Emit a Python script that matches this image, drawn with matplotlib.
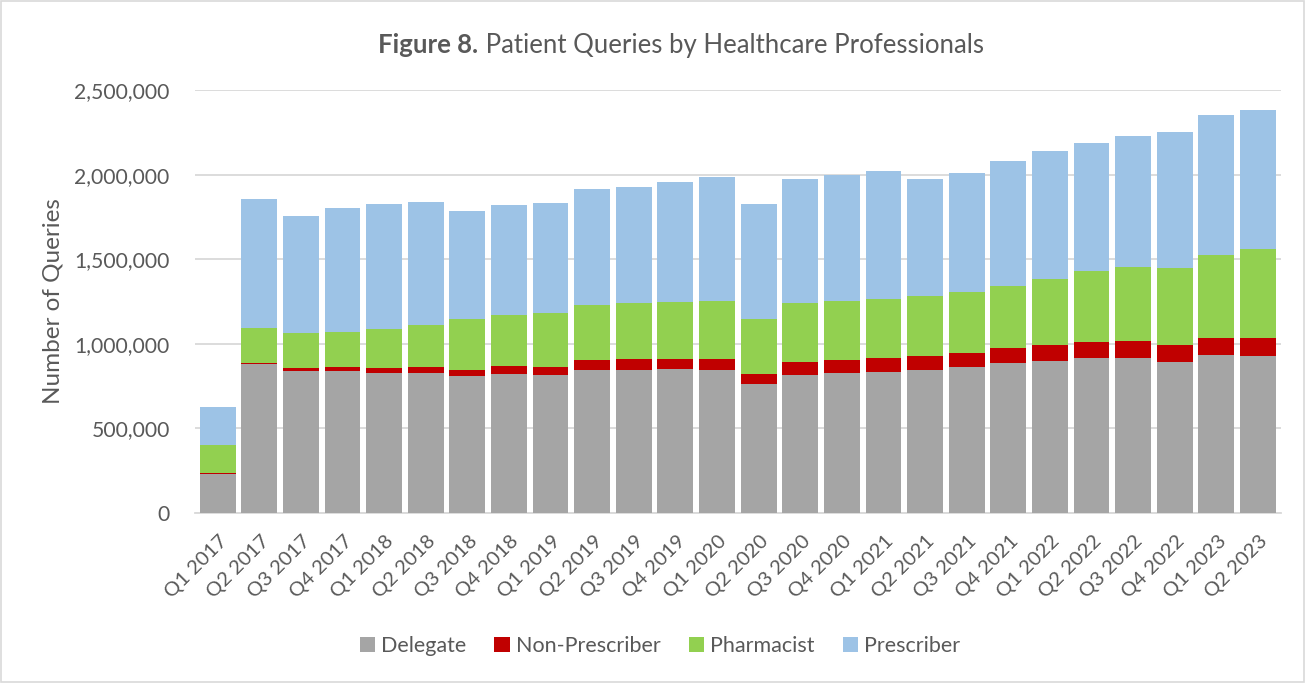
import matplotlib
matplotlib.use("Agg")
import matplotlib.pyplot as plt
import numpy as np
from matplotlib.patches import Rectangle
from matplotlib.transforms import ScaledTranslation

quarters = ["Q1 2017", "Q2 2017", "Q3 2017", "Q4 2017",
            "Q1 2018", "Q2 2018", "Q3 2018", "Q4 2018",
            "Q1 2019", "Q2 2019", "Q3 2019", "Q4 2019",
            "Q1 2020", "Q2 2020", "Q3 2020", "Q4 2020",
            "Q1 2021", "Q2 2021", "Q3 2021", "Q4 2021",
            "Q1 2022", "Q2 2022", "Q3 2022", "Q4 2022",
            "Q1 2023", "Q2 2023"]

delegate = [233000, 879000, 841000, 839000, 829000, 829000, 808000, 824000,
            814000, 845000, 845000, 849000, 845000, 760000, 818000, 827000,
            835000, 847000, 863000, 887000, 899000, 918000, 918000, 895000,
            934000, 930000]
non_prescriber = [2000, 10000, 14000, 24000, 30000, 36000, 37000, 47000,
                  51000, 57000, 63000, 63000, 67000, 63000, 73000, 75000,
                  79000, 83000, 85000, 91000, 92000, 95000, 99000, 98000,
                  101000, 105000]
pharmacist = [164000, 207000, 207000, 209000, 227000, 249000, 300000, 302000,
              316000, 326000, 332000, 338000, 342000, 322000, 353000, 350000,
              350000, 350000, 359000, 365000, 391000, 415000, 438000, 458000,
              493000, 523000]
prescriber = [227000, 760000, 696000, 731000, 743000, 727000, 640000, 648000,
              654000, 688000, 689000, 707000, 735000, 682000, 733000, 749000,
              760000, 695000, 705000, 738000, 759000, 762000, 776000, 804000,
              824000, 822000]

series_names = ["Delegate", "Non-Prescriber", "Pharmacist", "Prescriber"]
series_colors = ["#A5A5A5", "#C00000", "#92D050", "#9DC3E6"]

FONT = ["Lato", "DejaVu Sans"]
TXT = "#595959"
plt.rcParams['font.family'] = FONT

fig = plt.figure(figsize=(13.07, 6.83), dpi=100)
fig.patches.append(Rectangle((0.001, 0.001), 0.997, 0.997, transform=fig.transFigure,
                             fill=False, edgecolor="#d9d9d9", linewidth=1.2))
ax = fig.add_axes([0.149, 0.249, 0.831, 0.619])

x = np.arange(len(quarters))
bottom = np.zeros(len(quarters))
for vals, name, col in zip([delegate, non_prescriber, pharmacist, prescriber],
                           series_names, series_colors):
    v = np.array(vals, dtype=float)
    ax.bar(x, v, bottom=bottom, width=0.86, color=col, label=name, zorder=3)
    bottom += v

ax.set_xlim(-0.55, len(quarters) - 0.45)
ax.set_ylim(0, 2500000)
ax.set_yticks(np.arange(0, 2500001, 500000))
ax.set_yticklabels([f"{int(t):,}" for t in np.arange(0, 2500001, 500000)])
ax.yaxis.grid(True, color="#d9d9d9", linewidth=1.3, zorder=0)
ax.set_axisbelow(True)
for s in ["top", "right", "left"]:
    ax.spines[s].set_visible(False)
ax.spines["bottom"].set_color("#d9d9d9")
ax.spines["bottom"].set_linewidth(1.3)
ax.tick_params(axis="both", length=0, colors=TXT)
ax.tick_params(axis="y", pad=18, labelsize=15.2)
ax.set_xticks(x)
ax.set_xticklabels(quarters, rotation=45, ha="right", rotation_mode="anchor",
                   fontsize=14.6, color=TXT)
ax.tick_params(axis="x", pad=14)
shift = ScaledTranslation(1 / 100, 0, fig.dpi_scale_trans)
for lab in ax.get_xticklabels():
    lab.set_transform(lab.get_transform() + shift)

ax.set_ylabel("Number of Queries", fontsize=17.5, color=TXT)
ax.yaxis.set_label_coords(-0.121, 0.5)

leg = fig.legend(loc="center", bbox_to_anchor=(0.505, 0.054), ncol=4, frameon=False,
                 fontsize=15.5, handlelength=0.7, handleheight=0.7,
                 handletextpad=0.3, columnspacing=1.3)
for t in leg.get_texts():
    t.set_color(TXT)

# Title with bold prefix
fig.canvas.draw()
renderer = fig.canvas.get_renderer()
ty = 1 - 45 / 683
t1 = fig.text(0, ty, "Figure 8.", fontsize=18.5, fontweight="bold", color=TXT,
              ha="left", va="center")
t2 = fig.text(0, ty, " Patient Queries by Healthcare Professionals", fontsize=18.5,
              color=TXT, ha="left", va="center")
w1 = t1.get_window_extent(renderer).width / fig.bbox.width
w2 = t2.get_window_extent(renderer).width / fig.bbox.width
x0 = 681 / 1307 - (w1 + w2) / 2
t1.set_x(x0)
t2.set_x(x0 + w1)

fig.savefig("out.png", dpi=100)
